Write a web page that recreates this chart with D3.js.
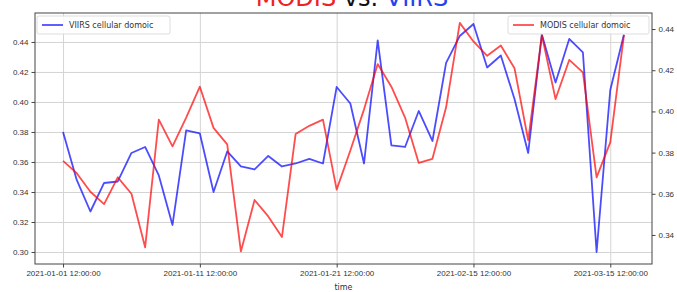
<!DOCTYPE html>
<html>
<head>
<meta charset="utf-8">
<script src="https://cdn.jsdelivr.net/npm/d3@7"></script>
<style>
  body { margin: 0; background: #fff; }
  svg { display: block; font-family: "DejaVu Sans", sans-serif; }
  .axis text { fill: #333; font-size: 8px; }
  .axis path, .axis line { stroke: #444; }
  .grid line { stroke: #d4d4d4; stroke-width: 1; }
  .grid path { display: none; }
</style>
</head>
<body>
<svg></svg>
<script>
// Data
const viirs = [0.380, 0.348, 0.327, 0.346, 0.347, 0.366, 0.370, 0.351, 0.318, 0.381,
  0.379, 0.340, 0.367, 0.357, 0.355, 0.364, 0.357, 0.359, 0.362, 0.359,
  0.410, 0.399, 0.359, 0.441, 0.371, 0.370, 0.394, 0.374, 0.426, 0.444,
  0.452, 0.423, 0.431, 0.402, 0.366, 0.445, 0.413, 0.442, 0.433, 0.300,
  0.408, 0.445];
const modis = [0.376, 0.370, 0.361, 0.355, 0.368, 0.360, 0.334, 0.396, 0.383, 0.397,
  0.412, 0.392, 0.384, 0.332, 0.357, 0.349, 0.339, 0.389, 0.393, 0.396,
  0.362, 0.381, 0.401, 0.423, 0.412, 0.397, 0.375, 0.377, 0.402, 0.443,
  0.434, 0.427, 0.432, 0.421, 0.386, 0.437, 0.406, 0.425, 0.419, 0.368,
  0.385, 0.437];
const tickIdx = [0, 10, 20, 30, 40];
const tickLabels = ["2021-01-01 12:00:00", "2021-01-11 12:00:00", "2021-01-21 12:00:00",
  "2021-02-15 12:00:00", "2021-03-15 12:00:00"];
const leftTicks = [0.30, 0.32, 0.34, 0.36, 0.38, 0.40, 0.42, 0.44];
const rightTicks = [0.34, 0.36, 0.38, 0.40, 0.42, 0.44];

const w = 677, h = 292;
const m = {left: 35, right: 652, top: 13, bottom: 264};

const svg = d3.select("svg").attr("width", w).attr("height", h);

const x = d3.scaleLinear().domain([-2.05, viirs.length - 1 + 2.05]).range([m.left, m.right]);
const yL = d3.scaleLinear().domain([0.2920, 0.4593]).range([m.bottom, m.top]);
const yR = d3.scaleLinear().domain([0.3259, 0.4478]).range([m.bottom, m.top]);

// grid
svg.append("g").attr("class", "grid")
  .attr("transform", `translate(0,${m.bottom})`)
  .call(d3.axisBottom(x).tickValues(tickIdx).tickSize(-(m.bottom - m.top)).tickFormat(""));
svg.append("g").attr("class", "grid")
  .attr("transform", `translate(${m.left},0)`)
  .call(d3.axisLeft(yL).tickValues(leftTicks).tickSize(-(m.right - m.left)).tickFormat(""));

// lines
const lineL = d3.line().x((d, i) => x(i)).y(d => yL(d));
const lineR = d3.line().x((d, i) => x(i)).y(d => yR(d));

svg.append("path").datum(viirs)
  .attr("fill", "none").attr("stroke", "#0000ff").attr("stroke-opacity", 0.7)
  .attr("stroke-width", 1.8).attr("stroke-linejoin", "round")
  .attr("d", lineL);
svg.append("path").datum(modis)
  .attr("fill", "none").attr("stroke", "#ff0000").attr("stroke-opacity", 0.7)
  .attr("stroke-width", 1.8).attr("stroke-linejoin", "round")
  .attr("d", lineR);

// frame
svg.append("rect")
  .attr("x", m.left).attr("y", m.top)
  .attr("width", m.right - m.left).attr("height", m.bottom - m.top)
  .attr("fill", "none").attr("stroke", "#444").attr("stroke-width", 1);

// axes
svg.append("g").attr("class", "axis")
  .attr("transform", `translate(0,${m.bottom})`)
  .call(d3.axisBottom(x).tickValues(tickIdx).tickSize(3.5).tickPadding(3)
    .tickFormat((d, i) => tickLabels[i]))
  .call(g => g.select(".domain").remove());
svg.append("g").attr("class", "axis")
  .attr("transform", `translate(${m.left},0)`)
  .call(d3.axisLeft(yL).tickValues(leftTicks).tickSize(3.5).tickPadding(3).tickFormat(d3.format(".2f")))
  .call(g => g.select(".domain").remove());
svg.append("g").attr("class", "axis")
  .attr("transform", `translate(${m.right},0)`)
  .call(d3.axisRight(yR).tickValues(rightTicks).tickSize(3.5).tickPadding(3).tickFormat(d3.format(".2f")))
  .call(g => g.select(".domain").remove());

svg.append("text").attr("x", (m.left + m.right) / 2).attr("y", 290)
  .attr("text-anchor", "middle").attr("font-size", 8).attr("fill", "#333").text("time");

// title
const title = svg.append("text").attr("x", 352).attr("y", 6)
  .attr("text-anchor", "middle").attr("font-size", 24);
title.append("tspan").attr("fill", "#ee2222").text("MODIS");
title.append("tspan").attr("fill", "#111").text(" vs. ");
title.append("tspan").attr("fill", "#2244ee").text("VIIRS");

// legends
function legend(lx, ly, lw, color, label) {
  const g = svg.append("g").attr("transform", `translate(${lx},${ly})`);
  g.append("rect").attr("width", lw).attr("height", 18).attr("rx", 2)
    .attr("fill", "#fff").attr("fill-opacity", 0.85).attr("stroke", "#ddd");
  g.append("line").attr("x1", 5).attr("x2", 26).attr("y1", 9).attr("y2", 9)
    .attr("stroke", color).attr("stroke-opacity", 0.7).attr("stroke-width", 1.8);
  g.append("text").attr("x", 32).attr("y", 12).attr("font-size", 8).attr("fill", "#333").text(label);
}
legend(37, 16, 133, "#0000ff", "VIIRS cellular domoic");
legend(508, 16, 141, "#ff0000", "MODIS cellular domoic");
</script>
</body>
</html>
